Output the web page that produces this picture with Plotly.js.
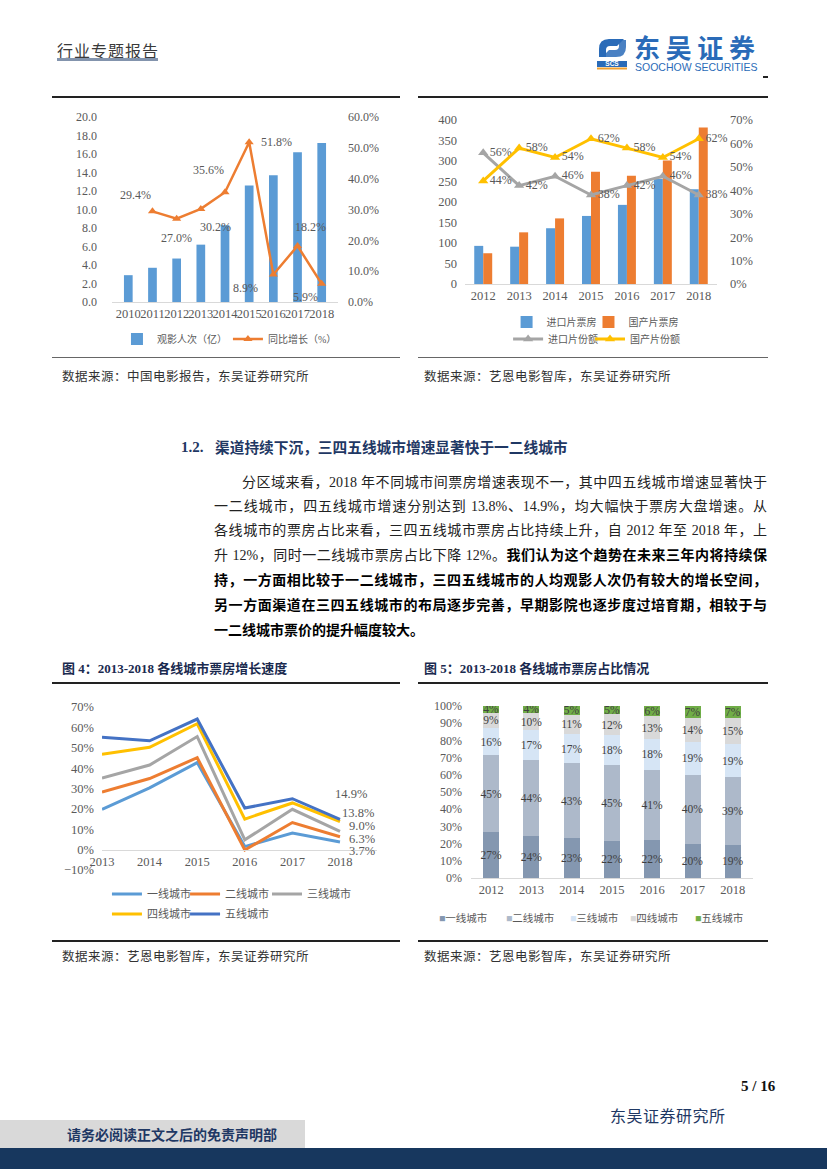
<!DOCTYPE html>
<html><head><meta charset="utf-8">
<script src="https://cdn.plot.ly/plotly-3.0.1.min.js"></script>
<style>
html,body{margin:0;padding:0;background:#fff}
body{width:827px;height:1169px;position:relative;overflow:hidden;font-family:"Liberation Serif","Noto Sans CJK SC",serif;color:#222}
.a{position:absolute;white-space:nowrap}
.rule{position:absolute;height:2px;background:#222}
.src{position:absolute;font-size:12.5px;color:#333;font-family:"Noto Sans CJK SC",sans-serif;letter-spacing:0.5px}
.ftitle{position:absolute;font-size:13px;font-weight:700;color:#1a2a4f;font-family:"Liberation Serif","Noto Sans CJK SC",serif}
.pl{position:absolute;left:214px;width:553px;font-size:14px;line-height:20px;height:20px;text-align:justify;text-align-last:justify;white-space:nowrap;font-family:"Liberation Serif","Noto Sans CJK SC",serif;color:#222}
.pl.last{text-align-last:left}
.b{font-weight:700;color:#000}
.chart{position:absolute}
</style></head>
<body>
<!-- header -->
<div class="a" style="left:57px;top:38px;font-size:16px;color:#3a3a3a;font-family:'Noto Sans CJK SC',sans-serif;letter-spacing:1px">行业专题报告</div>
<div class="a" style="left:57px;top:58px;width:101px;height:3px;background:#8394ad"></div>
<svg class="a" style="left:597px;top:30px;overflow:visible" width="178" height="48" viewBox="0 0 178 48">
  <g transform="translate(0,7)">
    <path d="M2 12 Q2 2 12 2 L27 2 L20 9 L13 9 Q9 9 9 13 L9 20 L2 20 Z" fill="#2a6bb8"/>
    <path d="M29 10 Q29 20 19 20 L5 20 L12 13 L18 13 Q22 13 22 9 L22 3 L29 3 Z" fill="#2a6bb8" opacity="0.85"/>
    <rect x="0" y="24" width="30" height="6" fill="#2a6bb8"/>
    <text x="15" y="29.3" font-size="6.5" font-weight="700" fill="#fff" text-anchor="middle" font-family="Liberation Sans">SCS</text>
    <rect x="0" y="30.5" width="30" height="2" fill="#f0a030"/>
  </g>
  <text x="37" y="28" font-size="26" font-weight="700" fill="#2a6bb8" font-family="Noto Sans CJK SC" textLength="121" lengthAdjust="spacing">东吴证券</text>
  <text x="38" y="41" font-size="10.5" fill="#2a6bb8" font-family="Liberation Sans">SOOCHOW SECURITIES</text>
</svg>
<div class="a" style="left:763px;top:76px;width:5px;height:2px;background:#222"></div>

<!-- top rules -->
<div class="rule" style="left:52px;top:96px;width:348px"></div>
<div class="rule" style="left:418px;top:96px;width:350px"></div>

<div id="c1" class="chart" style="left:52px;top:100px;width:350px;height:258px"></div>
<div id="c2" class="chart" style="left:415px;top:100px;width:355px;height:258px"></div>

<div class="a" style="left:52px;top:357px;width:348px;height:1px;background:#666"></div>
<div class="a" style="left:418px;top:357px;width:350px;height:1px;background:#666"></div>
<div class="src" style="left:62px;top:366px">数据来源：中国电影报告，东吴证券研究所</div>
<div class="src" style="left:424px;top:366px">数据来源：艺恩电影智库，东吴证券研究所</div>

<!-- heading -->
<div class="a" style="left:181px;top:437px;font-size:15px;font-weight:700;color:#1f3864;font-family:'Liberation Serif','Noto Sans CJK SC',serif;line-height:20px">1.2.</div>
<div class="a" style="left:215px;top:437px;font-size:14.7px;font-weight:700;color:#1f3864;font-family:'Noto Sans CJK SC',sans-serif;line-height:20px">渠道持续下沉，三四五线城市增速显著快于一二线城市</div>

<div class="pl" style="top:473px;left:242px;width:525px">分区域来看，2018 年不同城市间票房增速表现不一，其中四五线城市增速显著快于</div>
<div class="pl" style="top:497px">一二线城市，四五线城市增速分别达到 13.8%、14.9%，均大幅快于票房大盘增速。从</div>
<div class="pl" style="top:521px">各线城市的票房占比来看，三四五线城市票房占比持续上升，自 2012 年至 2018 年，上</div>
<div class="pl" style="top:546px">升 12%，同时一二线城市票房占比下降 12%。<span class="b">我们认为这个趋势在未来三年内将持续保</span></div>
<div class="pl b" style="top:571px">持，一方面相比较于一二线城市，三四五线城市的人均观影人次仍有较大的增长空间，</div>
<div class="pl b" style="top:596px">另一方面渠道在三四五线城市的布局逐步完善，早期影院也逐步度过培育期，相较于与</div>
<div class="pl b last" style="top:621px">一二线城市票价的提升幅度较大。</div>

<!-- figure titles -->
<div class="ftitle" style="left:62px;top:658px">图 4：2013-2018 各线城市票房增长速度</div>
<div class="ftitle" style="left:424px;top:658px">图 5：2013-2018 各线城市票房占比情况</div>
<div class="rule" style="left:52px;top:682px;width:348px"></div>
<div class="rule" style="left:418px;top:682px;width:350px"></div>

<div id="c3" class="chart" style="left:52px;top:688px;width:350px;height:252px"></div>
<div id="c4" class="chart" style="left:415px;top:688px;width:355px;height:252px"></div>

<div class="rule" style="left:52px;top:940px;width:348px"></div>
<div class="rule" style="left:418px;top:940px;width:350px"></div>
<div class="src" style="left:62px;top:946px">数据来源：艺恩电影智库，东吴证券研究所</div>
<div class="src" style="left:424px;top:946px">数据来源：艺恩电影智库，东吴证券研究所</div>

<!-- footer -->
<div class="a" style="left:741px;top:1078px;font-size:15px;font-weight:700;color:#111">5 / 16</div>
<div class="a" style="left:610px;top:1103px;font-size:16px;color:#1f3864;font-family:'Noto Sans CJK SC',sans-serif;letter-spacing:0.5px">东吴证券研究所</div>
<div class="a" style="left:0;top:1120px;width:305px;height:28px;background:#d9d9d9"></div>
<div class="a" style="left:67px;top:1123px;font-size:14px;font-weight:700;color:#1f3864;font-family:'Noto Sans CJK SC',sans-serif;line-height:22px">请务必阅读正文之后的免责声明部</div>
<div class="a" style="left:0;top:1148px;width:827px;height:21px;background:#17375e"></div>

<script>
// ---------- Chart 1 data ----------
const c1Years = ['2010','2011','2012','2013','2014','2015','2016','2017','2018'];
const c1Admissions = [2.9, 3.7, 4.7, 6.2, 8.3, 12.6, 13.7, 16.2, 17.2];
const c1Growth = [null, 29.4, 27.0, 30.2, 35.6, 51.8, 8.9, 18.2, 5.9];
const c1Names = ['观影人次（亿）', '同比增长（%）'];

// ---------- Chart 2 data ----------
const c2Years = ['2012','2013','2014','2015','2016','2017','2018'];
const c2ImportBO = [93, 91, 136, 166, 193, 256, 231];
const c2DomesticBO = [75, 126, 160, 274, 264, 301, 382];
const c2ImportShare = [56, 42, 46, 38, 42, 46, 38];
const c2DomesticShare = [44, 58, 54, 62, 58, 54, 62];
const c2Names = ['进口片票房', '国产片票房', '进口片份额', '国产片份额'];

// ---------- Chart 3 data ----------
const c3Years = ['2013','2014','2015','2016','2017','2018'];
const c3Tier1 = [19.8, 30.3, 42.7, 1.5, 8.1, 3.7];
const c3Tier2 = [28.3, 34.9, 45.1, -0.2, 13.3, 6.3];
const c3Tier3 = [35.1, 41.5, 55.5, 4.8, 19.8, 9.0];
const c3Tier4 = [46.8, 50.2, 61.8, 15.0, 22.9, 13.8];
const c3Tier5 = [55.2, 53.4, 64.1, 20.4, 25.0, 14.9];
const c3Names = ['一线城市', '二线城市', '三线城市', '四线城市', '五线城市'];

// ---------- Chart 4 data ----------
const c4Years = ['2012','2013','2014','2015','2016','2017','2018'];
const c4Tier1 = [27, 24, 23, 22, 22, 20, 19];
const c4Tier2 = [45, 44, 43, 45, 41, 40, 39];
const c4Tier3 = [16, 17, 17, 18, 18, 19, 19];
const c4Tier4 = [9, 10, 11, 12, 13, 14, 15];
const c4Tier5 = [4, 4, 5, 5, 6, 7, 7];
const c4Names = ['一线城市', '二线城市', '三线城市', '四线城市', '五线城市'];

// ---------- styles ----------
const FONT = 'Liberation Serif, Noto Sans CJK SC, serif';
const TXT = '#595959';
const cfg = {displayModeBar:false, staticPlot:true};
const legendId = i => i === 0 ? 'legend' : 'legend' + (i + 1);
function legendAt(x, y, size){
  return {orientation:'h', x:x, xanchor:'left', y:y, yanchor:'middle', font:{size:size, color:TXT, family:FONT}, bgcolor:'rgba(0,0,0,0)', borderwidth:0};
}

// Chart 1
const c1LabelShift = [null,[-17,16],[0,-19],[15,-18],[-17,22],[27,0],[-28,-13],[13,19],[-16,-13]];
const c1Ann = [];
c1Years.forEach((yr,i)=>{
  if(c1Growth[i]===null) return;
  c1Ann.push({x:i, y:c1Growth[i], xref:'x', yref:'y2', text:c1Growth[i].toFixed(1)+'%', showarrow:false,
    xshift:c1LabelShift[i][0], yshift:c1LabelShift[i][1], font:{size:12, color:TXT, family:FONT}});
});
Plotly.newPlot('c1', [
  {type:'bar', x:c1Years, y:c1Admissions, name:c1Names[0], marker:{color:'#5B9BD5'}, legend:'legend'},
  {type:'scatter', mode:'lines+markers', x:c1Years, y:c1Growth, name:c1Names[1], yaxis:'y2', legend:'legend2',
   line:{color:'#ED7D31', width:2.5}, marker:{symbol:'triangle-up', size:8, color:'#ED7D31'}}
], {
  width:350, height:258, margin:{l:60, r:64, t:17, b:56, autoexpand:false},
  paper_bgcolor:'rgba(0,0,0,0)', plot_bgcolor:'rgba(0,0,0,0)', bargap:0.64,
  font:{family:FONT, color:TXT, size:12},
  xaxis:{type:'category', tickangle:0, showline:true, linecolor:'#d9d9d9', linewidth:1, ticks:'', showgrid:false, tickfont:{size:12.5}},
  yaxis:{range:[0,20], dtick:2, tickformat:'.1f', showgrid:false, zeroline:false, ticks:'', ticklabelstandoff:14},
  yaxis2:{range:[0,60], dtick:10, tickformat:'.1f', ticksuffix:'%', overlaying:'y', side:'right', showgrid:false, zeroline:false, ticks:'', ticklabelstandoff:9},
  showlegend:true,
  legend:legendAt(0.022, -0.2, 10),
  legend2:legendAt(0.513, -0.2, 10),
  annotations:c1Ann
}, cfg);

// Chart 2
const c2LegX = [0.165, 0.49, 0.171, 0.496];
const c2LegY = [-0.232, -0.232, -0.335, -0.335];
const c2Layout = {
  width:355, height:258, margin:{l:50, r:53, t:20, b:74, autoexpand:false},
  paper_bgcolor:'rgba(0,0,0,0)', plot_bgcolor:'rgba(0,0,0,0)', barmode:'group', bargap:0.5, bargroupgap:0,
  font:{family:FONT, color:TXT, size:12},
  xaxis:{type:'category', tickangle:0, showline:true, linecolor:'#d9d9d9', ticks:'', showgrid:false, tickfont:{size:12.5}},
  yaxis:{range:[0,400], dtick:50, showgrid:false, zeroline:false, ticks:'', ticklabelstandoff:7, tickfont:{size:12.5}},
  yaxis2:{range:[0,70], dtick:10, ticksuffix:'%', overlaying:'y', side:'right', showgrid:false, zeroline:false, ticks:'', ticklabelstandoff:12, tickfont:{size:12.5}},
  showlegend:true
};
c2Names.forEach((n,i)=>{ c2Layout[legendId(i)] = legendAt(c2LegX[i], c2LegY[i], 10); });
Plotly.newPlot('c2', [
  {type:'bar', x:c2Years, y:c2ImportBO, name:c2Names[0], marker:{color:'#5B9BD5'}, legend:legendId(0)},
  {type:'bar', x:c2Years, y:c2DomesticBO, name:c2Names[1], marker:{color:'#ED7D31'}, legend:legendId(1)},
  {type:'scatter', mode:'lines+markers+text', x:c2Years, y:c2ImportShare, name:c2Names[2], yaxis:'y2', legend:legendId(2),
   text:c2ImportShare.map(v=>v+'%'), textposition:'middle right', textfont:{size:12, color:TXT}, cliponaxis:false,
   line:{color:'#A5A5A5', width:3}, marker:{symbol:'triangle-up', size:9, color:'#A5A5A5'}},
  {type:'scatter', mode:'lines+markers+text', x:c2Years, y:c2DomesticShare, name:c2Names[3], yaxis:'y2', legend:legendId(3),
   text:c2DomesticShare.map(v=>v+'%'), textposition:'middle right', textfont:{size:12, color:TXT}, cliponaxis:false,
   line:{color:'#FFC000', width:3}, marker:{symbol:'triangle-up', size:9, color:'#FFC000'}}
], c2Layout, cfg);

// Chart 3
const c3Series = [c3Tier1, c3Tier2, c3Tier3, c3Tier4, c3Tier5];
const c3Colors = ['#5B9BD5', '#ED7D31', '#A5A5A5', '#FFC000', '#4472C4'];
const c3LabelShift = [[22,-9],[22,-2],[22,5],[18,9],[11,25]];
const c3LegX = [0.018, 0.302, 0.6, 0.018, 0.302];
const c3LegY = [-0.147, -0.147, -0.147, -0.27, -0.27];
const c3Range = [-10, 70];
const c3Traces = c3Series.map((s,i)=>({type:'scatter', mode:'lines', x:c3Years, y:s, name:c3Names[i],
  line:{color:c3Colors[i], width:3}, legend:legendId(i)}));
const c3Ann = c3Series.map((s,i)=>{
  const last = s.length-1;
  return {x:last, y:s[last], xref:'x', yref:'y', text:s[last].toFixed(1)+'%', showarrow:false,
    xshift:c3LabelShift[i][0], yshift:c3LabelShift[i][1], font:{size:12.5, color:TXT, family:FONT}};
});
const c3Layout = {
  width:350, height:252, margin:{l:50, r:25, t:19, b:70, autoexpand:false},
  paper_bgcolor:'rgba(0,0,0,0)', plot_bgcolor:'rgba(0,0,0,0)',
  font:{family:FONT, color:TXT, size:12},
  xaxis:{type:'category', tickangle:0, anchor:'free', position:(0-c3Range[0])/(c3Range[1]-c3Range[0]),
    showline:true, linecolor:'#d9d9d9', ticks:'', showgrid:false, tickfont:{size:12.5}},
  yaxis:{range:c3Range, dtick:10, ticksuffix:'%', showgrid:false, zeroline:false, ticks:'', ticklabelstandoff:7, tickfont:{size:12.5}},
  showlegend:true,
  annotations:c3Ann
};
c3Names.forEach((n,i)=>{ c3Layout[legendId(i)] = legendAt(c3LegX[i], c3LegY[i], 11); });
Plotly.newPlot('c3', c3Traces, c3Layout, cfg);

// Chart 4
const c4Series = [c4Tier1, c4Tier2, c4Tier3, c4Tier4, c4Tier5];
const c4Colors = ['#8497B0', '#ADB9CA', '#D6E5F5', '#D9D9D9', '#70AD47'];
const c4Traces = c4Series.map((s,i)=>({type:'bar', x:c4Years, y:s, name:c4Names[i],
  marker:{color:c4Colors[i]}, text:s.map(v=>v+'%'), textposition:'inside', insidetextanchor:'middle',
  textangle:0, constraintext:'none', textfont:{size:11.5, color:'#404040', family:FONT}, showlegend:false}));
const c4LegX = [437, 504, 568, 628, 693];
const c4PlotL = 56, c4PlotW = 355-56-17;
const c4Ann = c4Names.map((n,i)=>({xref:'paper', yref:'paper', x:(c4LegX[i]-415-c4PlotL)/c4PlotW, y:-0.233,
  xanchor:'left', yanchor:'middle', showarrow:false,
  text:'<span style="color:'+c4Colors[i]+'">■</span>'+n, font:{size:10.5, color:TXT, family:FONT}}));
Plotly.newPlot('c4', c4Traces, {
  width:355, height:252, margin:{l:56, r:17, t:18, b:62, autoexpand:false},
  paper_bgcolor:'rgba(0,0,0,0)', plot_bgcolor:'rgba(0,0,0,0)', barmode:'stack', barnorm:'percent', bargap:0.6,
  font:{family:FONT, color:TXT, size:12},
  xaxis:{type:'category', tickangle:0, showline:true, linecolor:'#d9d9d9', ticks:'', showgrid:false, tickfont:{size:12.5}},
  yaxis:{range:[0,100], dtick:10, ticksuffix:'%', showgrid:false, zeroline:false, ticks:'', ticklabelstandoff:8, tickfont:{size:12}},
  showlegend:false,
  annotations:c4Ann
}, cfg);
</script>
</body></html>
